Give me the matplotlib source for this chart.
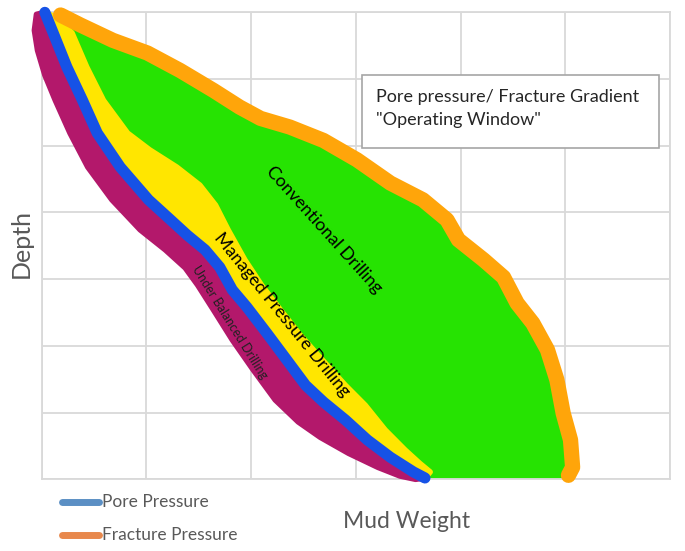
import matplotlib
matplotlib.use("Agg")
import matplotlib.pyplot as plt
from matplotlib.lines import Line2D
from matplotlib.patches import Polygon, Rectangle

plt.rcParams["font.family"] = ["Lato", "DejaVu Sans"]

# mud weight (x, grid units) and depth (grid units, increasing downward)
pore_x = [0.03, 0.11, 0.24, 0.39, 0.53, 0.75, 1.02, 1.23, 1.39, 1.56, 1.70,
          1.82, 1.96, 2.15, 2.34, 2.52, 2.69, 2.90, 3.11, 3.33, 3.55, 3.66]
pore_depth = [0.00, 0.31, 0.82, 1.32, 1.81, 2.32, 2.81, 3.11, 3.34, 3.56, 3.82,
              4.16, 4.42, 4.81, 5.21, 5.59, 5.84, 6.11, 6.41, 6.67, 6.89, 6.98]

frac_x = [0.18, 0.37, 0.68, 1.01, 1.32, 1.64, 1.89, 2.09, 2.37, 2.69, 3.01, 3.33,
          3.64, 3.87, 3.98, 4.22, 4.41, 4.54, 4.69, 4.83, 4.92, 4.98, 5.05, 5.07, 5.03]
frac_depth = [0.04, 0.19, 0.42, 0.61, 0.87, 1.17, 1.42, 1.59, 1.72, 1.92, 2.21, 2.56,
              2.81, 3.11, 3.41, 3.71, 3.97, 4.36, 4.66, 5.06, 5.51, 6.01, 6.41, 6.82, 6.94]

# right edge of the managed pressure band (left edge of conventional window)
mpd_x = [0.16, 0.29, 0.43, 0.59, 0.82, 1.03, 1.29, 1.51, 1.66, 1.78, 1.94,
         2.10, 2.28, 2.47, 2.68, 2.90, 3.09, 3.28, 3.47, 3.61, 3.71]
mpd_depth = [0.09, 0.31, 0.82, 1.32, 1.81, 2.06, 2.32, 2.59, 2.89, 3.26, 3.71,
             4.09, 4.46, 4.84, 5.21, 5.59, 5.89, 6.26, 6.56, 6.76, 6.89]

# left edge of the under balanced band
ubd_x = [-0.05, -0.07, -0.04, 0.03, 0.13, 0.27, 0.44, 0.67, 0.94, 1.18, 1.37,
         1.49, 1.64, 1.82, 2.02, 2.23, 2.45, 2.66, 2.93, 3.21, 3.42, 3.57]
ubd_depth = [0.03, 0.27, 0.57, 0.94, 1.32, 1.81, 2.32, 2.81, 3.26, 3.56, 3.83,
             4.09, 4.46, 4.91, 5.36, 5.81, 6.14, 6.37, 6.61, 6.82, 6.95, 7.00]

# bottom of the conventional window
floor_x = [3.72, 4.98]
floor_depth = [6.97, 6.97]

legend_labels = ["Pore Pressure", "Fracture Pressure"]
legend_colors = ["#5b8fc4", "#e8884c"]

MAGENTA = "#b3186b"
BLUE = "#1652e6"
YELLOW = "#ffe600"
GREEN = "#26e302"
ORANGE = "#ffa50a"
GRAY = "#595959"

fig = plt.figure(figsize=(6.85, 5.51), dpi=100)
ax = fig.add_axes([0.0609, 0.1301, 0.9172, 0.8475])
ax.set_xlim(0, 6)
ax.set_ylim(7, 0)
ax.set_xticks(range(7))
ax.set_yticks(range(8))
ax.tick_params(length=0, labelbottom=False, labelleft=False)
ax.grid(True, color="#d9d9d9", lw=1.3)
for side in ax.spines.values():
    side.set_color("#d9d9d9")
    side.set_linewidth(1.3)

green_pts = list(zip(mpd_x, mpd_depth)) + list(zip(floor_x, floor_depth)) \
    + list(zip(frac_x, frac_depth))[::-1]
ax.add_patch(Polygon(green_pts, closed=True, fc=GREEN, ec=GREEN, lw=2,
                     joinstyle="round", zorder=2))

yellow_pts = list(zip(pore_x, pore_depth)) + list(zip(mpd_x, mpd_depth))[::-1]
ax.add_patch(Polygon(yellow_pts, closed=True, fc=YELLOW, ec=YELLOW, lw=4,
                     joinstyle="round", zorder=3))

magenta_pts = list(zip(ubd_x, ubd_depth)) + list(zip(pore_x, pore_depth))[::-1]
ax.add_patch(Polygon(magenta_pts, closed=True, fc=MAGENTA, ec=MAGENTA, lw=4,
                     joinstyle="round", zorder=3, clip_on=False))

ax.plot(pore_x, pore_depth, color=BLUE, lw=8, solid_capstyle="round",
        solid_joinstyle="round", zorder=4, clip_on=False)
ax.plot(frac_x, frac_depth, color=ORANGE, lw=11, solid_capstyle="round",
        solid_joinstyle="round", zorder=4, clip_on=False)

ax.text(2.70, 3.26, "Conventional Drilling", rotation=-48, rotation_mode="anchor",
        ha="center", va="center", fontsize=12.8, color="black", zorder=5)
ax.text(2.29, 4.54, "Managed Pressure Drilling", rotation=-51, rotation_mode="anchor",
        ha="center", va="center", fontsize=12.8, color="black", zorder=5)
ax.text(1.80, 4.64, "Under Balanced Drilling", rotation=-58, rotation_mode="anchor",
        ha="center", va="center", fontsize=9, color="#222222", zorder=5)

ax.add_patch(Rectangle((3.056, 0.94), 2.84, 1.094, fc="white", ec="#a6a6a6",
                       lw=1.2, zorder=6))
ax.text(3.19, 1.345, "Pore pressure/ Fracture Gradient", ha="left", va="baseline",
        fontsize=13, color="#262626", zorder=7)
ax.text(3.19, 1.69, "\"Operating Window\"", ha="left", va="baseline",
        fontsize=13, color="#262626", zorder=7)

fig.text(21 / 685, 1 - 244 / 551, "Depth", rotation=90, ha="center", va="center",
         fontsize=18, color=GRAY)
fig.text(407 / 685, 1 - 521 / 551, "Mud Weight", ha="center", va="center",
         fontsize=16.5, color=GRAY)

for i, (label, color) in enumerate(zip(legend_labels, legend_colors)):
    y = 1 - (502 + 33 * i) / 551
    fig.add_artist(Line2D([62 / 685, 99 / 685], [y, y], color=color, lw=5,
                          solid_capstyle="round", transform=fig.transFigure))
    fig.text(102 / 685, y, label, ha="left", va="center", fontsize=12.5, color=GRAY)

fig.savefig("out.png", dpi=100)
